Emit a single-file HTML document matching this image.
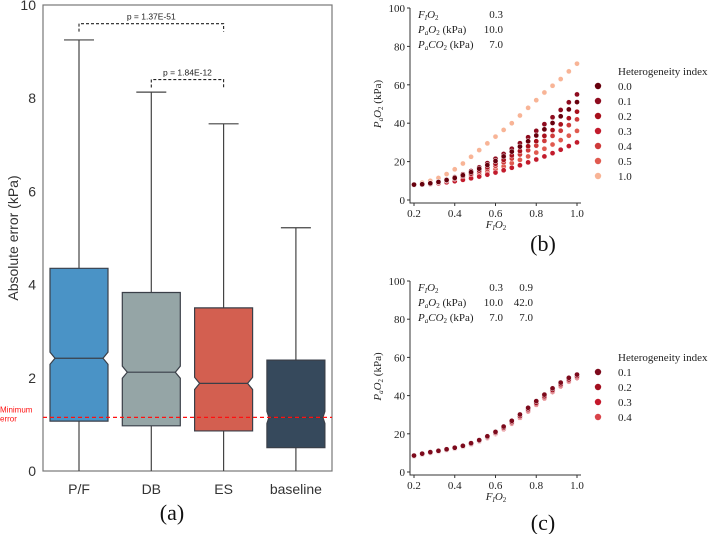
<!DOCTYPE html>
<html><head><meta charset="utf-8"><style>
body{margin:0;background:#fff;width:709px;height:534px;overflow:hidden}
svg{display:block}
.ser{font-family:"Liberation Serif",serif}
.san{font-family:"Liberation Sans","DejaVu Sans",sans-serif}
</style></head><body>
<svg id="fig" width="709" height="534" viewBox="0 0 709 534">
<g id="pa"></g>
<g id="pb"></g>
<g id="pc"></g>
</svg>
<script>
// ---- Panel (a) data ----
const boxCats=["P/F","DB","ES","baseline"];
const boxLow=[0,0,0,0];
const boxQ1=[1.07,0.97,0.86,0.5];
const boxMed=[2.42,2.12,1.88,1.15];
const boxQ3=[4.35,3.83,3.5,2.38];
const boxHigh=[9.25,8.13,7.45,5.22];
const boxColors=["#4a93c6","#95a5a6","#d35f50","#36495c"];
const aTicks=[0,2,4,6,8,10];
const minError=1.15;
// ---- Panel (b) data ----
const bX=[0.2,0.24,0.28,0.32,0.36,0.4,0.44,0.48,0.52,0.56,0.6,0.64,0.68,0.72,0.76,0.8,0.84,0.88,0.92,0.96,1.0];
const bLabels=["0.0","0.1","0.2","0.3","0.4","0.5","1.0"];
const bColors=["#67000d","#8e0b1e","#a8101c","#c21b2c","#cf3b3b","#e05a4f","#f8b496"];
const bH00=[8,8.2,8.7,9.4,10.4,11.5,12.9,14.5,16.3,18.2,20.3,22.7,25.2,27.8,30.6,33.6,36.8,40.1,43.6,47.2,51];
const bH01=[8,8.2,8.7,9.5,10.6,11.9,13.4,15.1,17.0,19.2,21.5,24.0,26.7,29.6,32.7,36.0,39.5,43.1,46.9,50.9,55];
const bH02=[8,8.2,8.6,9.3,10.1,11.1,12.4,13.7,15.3,17.0,18.9,20.9,23.2,25.5,28.0,30.6,33.4,36.4,39.4,42.6,46];
const bH03=[8,8.1,8.3,8.7,9.2,9.8,10.5,11.3,12.2,13.2,14.3,15.5,16.8,18.1,19.6,21.1,22.7,24.4,26.2,28.1,30];
const bH04=[8,8.2,8.5,9.1,9.9,10.8,11.9,13.1,14.5,16.1,17.8,19.6,21.6,23.7,25.9,28.3,30.8,33.4,36.1,39.0,42];
const bH05=[8,8.1,8.4,8.9,9.5,10.3,11.2,12.2,13.4,14.7,16.0,17.5,19.2,20.9,22.7,24.7,26.7,28.9,31.2,33.5,36];
const bH10=[8,9,10,11.5,13.5,16,19,22.5,26,29.5,33,36.5,40,44,48,52,56,59.5,63,67,71];
// ---- Panel (c) data ----
const cLabels=["0.1","0.2","0.3","0.4"];
const cColors=["#7d0a1c","#a30f1f","#c4182b","#d9444a"];
const cH01=[8.6,9.6,10.4,11.1,11.9,12.7,13.7,15.1,16.7,18.7,21.0,23.8,26.8,30.1,33.6,37.1,40.5,43.8,46.8,49.3,51];
const cH02=[8.4,9.4,10.2,10.9,11.7,12.5,13.5,14.8,16.4,18.3,20.5,23.2,26.1,29.3,32.8,36.2,39.6,42.9,45.9,48.4,50.2];
const cH03=[8.3,9.3,10.1,10.8,11.6,12.4,13.4,14.6,16.2,18.1,20.2,22.8,25.7,28.9,32.3,35.7,39.1,42.4,45.4,47.9,49.7];
const cH04=[8.2,9.2,10.0,10.7,11.5,12.3,13.2,14.4,16.0,17.8,19.9,22.4,25.3,28.4,31.8,35.2,38.6,41.9,44.9,47.4,49.2];
const sTicksY=[0,20,40,60,80,100];
const sTicksX=[0.2,0.4,0.6,0.8,1.0];

const NS="http://www.w3.org/2000/svg";
function mk(parent,tag,attrs,text){const e=document.createElementNS(NS,tag);for(const k in attrs)e.setAttribute(k,attrs[k]);if(text!==undefined)e.textContent=text;parent.appendChild(e);return e;}

// ---------- Panel A ----------
const pa=document.getElementById('pa');
const aL=43,aR=332,aT=5,aB=471;
const ay=v=>aB-(v/10)*(aB-aT);
const ax=i=>79+i*72.3;
let fr=mk(pa,'rect',{x:aL,y:aT,width:aR-aL,height:aB-aT,fill:'none',stroke:'#777','stroke-width':1.2});


aTicks.forEach(t=>{const tx=mk(pa,'text',{x:36,y:ay(t)+5,'text-anchor':'end','font-size':14,fill:'#333',class:'san'},String(t));

});
let yt=mk(pa,'text',{transform:'translate(18,238) rotate(-90)','text-anchor':'middle','font-size':14,fill:'#333',class:'san'},'Absolute error (kPa)');


const hw=29,nh=0.13;
boxCats.forEach((c,i)=>{
 const cx=ax(i);
 const nw=i===3?2:5;
 const g=mk(pa,'g',{});
 
 
 mk(g,'line',{x1:cx,x2:cx,y1:ay(boxLow[i]),y2:ay(boxQ1[i]),stroke:'#444','stroke-width':1.2});
 mk(g,'line',{x1:cx,x2:cx,y1:ay(boxQ3[i]),y2:ay(boxHigh[i]),stroke:'#444','stroke-width':1.2});
 mk(g,'line',{x1:cx-15,x2:cx+15,y1:ay(boxHigh[i]),y2:ay(boxHigh[i]),stroke:'#444','stroke-width':1.2});
 const m=boxMed[i];
 const d=`M${cx-hw},${ay(boxQ1[i])} L${cx-hw},${ay(m-nh)} L${cx-hw+nw},${ay(m)} L${cx-hw},${ay(m+nh)} L${cx-hw},${ay(boxQ3[i])} L${cx+hw},${ay(boxQ3[i])} L${cx+hw},${ay(m+nh)} L${cx+hw-nw},${ay(m)} L${cx+hw},${ay(m-nh)} L${cx+hw},${ay(boxQ1[i])} Z`;
 mk(g,'path',{d:d,fill:boxColors[i],stroke:'#3a3f48','stroke-width':1.2});
 mk(g,'line',{x1:cx-hw+nw,x2:cx+hw-nw,y1:ay(m),y2:ay(m),stroke:'#3a3f48','stroke-width':1.2});
 const lb=mk(pa,'text',{x:cx,y:494,'text-anchor':'middle','font-size':14,fill:'#333',class:'san'},c);
 
 
});
let ml=mk(pa,'line',{x1:aL,x2:aR,y1:ay(minError),y2:ay(minError),stroke:'#ff1010','stroke-width':1.2,'stroke-dasharray':'4,3'});


let mt=mk(pa,'text',{x:0,y:ay(minError)-5,'font-size':8,fill:'#ff1010',class:'san'},'Minimum');


let mt2=mk(pa,'text',{x:0,y:ay(minError)+4,'font-size':8,fill:'#ff1010',class:'san'},'error');


function bracket(i1,i2,yv,label,nm){
 const y=ay(yv);
 const p=mk(pa,'path',{d:`M${ax(i1)},${y+8} L${ax(i1)},${y} L${ax(i2)},${y} L${ax(i2)},${y+8}`,fill:'none',stroke:'#222','stroke-width':1.1,'stroke-dasharray':'3,2'});
 
 
 const t=mk(pa,'text',{x:(ax(i1)+ax(i2))/2,y:y-4,'text-anchor':'middle','font-size':8.5,fill:'#222',class:'san'},label);
 
 
}
bracket(0,2,9.6,'p = 1.37E-51','significance-bracket-pf-es');
bracket(1,2,8.4,'p = 1.84E-12','significance-bracket-db-es');
let la=mk(pa,'text',{x:172,y:520,'text-anchor':'middle','font-size':22,fill:'#111',class:'ser'},'(a)');



// ---------- scatter panels ----------
function scatterPanel(g,y0,y100,series,labels,colors,tableRows,legTop,plab,plabY){
 const xL=414,xR=577;
 const sx=v=>xL+(v-0.2)/0.8*(xR-xL);
 const sy=v=>y0-(v/100)*(y0-y100);
 const axl=mk(g,'path',{d:`M${sx(0.2)-4},${y100} L${sx(0.2)-4},${y0+3} L${sx(1.0)+4},${y0+3}`,fill:'none',stroke:'#333','stroke-width':1});
 
 
 sTicksY.forEach(t=>{mk(g,'line',{x1:sx(0.2)-7,x2:sx(0.2)-4,y1:sy(t),y2:sy(t),stroke:'#333'});
  const tx=mk(g,'text',{x:sx(0.2)-9,y:sy(t)+4,'text-anchor':'end','font-size':11,fill:'#222',class:'ser'},String(t));
  
  });
 sTicksX.forEach(t=>{mk(g,'line',{x1:sx(t),x2:sx(t),y1:y0+3,y2:y0+6,stroke:'#333'});
  const tx=mk(g,'text',{x:sx(t),y:y0+17,'text-anchor':'middle','font-size':11,fill:'#222',class:'ser'},t.toFixed(1));
  
  });
 const yt=mk(g,'text',{transform:`translate(381,${(y0+y100)/2}) rotate(-90)`,'text-anchor':'middle','font-size':11,fill:'#222',class:'ser'});
 
 
 yt.innerHTML='<tspan font-style="italic">P</tspan><tspan font-size="7" dy="2" font-style="italic">a</tspan><tspan dy="-2" font-style="italic">O</tspan><tspan font-size="7" dy="2">2</tspan><tspan dy="-2"> (kPa)</tspan>';
 const xt=mk(g,'text',{x:496,y:y0+28,'text-anchor':'middle','font-size':11,fill:'#222',class:'ser'});
 
 
 xt.innerHTML='<tspan font-style="italic">F</tspan><tspan font-size="7" dy="2" font-style="italic">I</tspan><tspan dy="-2" font-style="italic">O</tspan><tspan font-size="7" dy="2">2</tspan>';
 for(let s=series.length-1;s>=0;s--){
  const sg=mk(g,'g',{});
  
  
  series[s].forEach((v,k)=>{mk(sg,'circle',{cx:sx(bX[k]),cy:sy(v),r:2.6,fill:colors[s],stroke:'#fff','stroke-width':0.5});});
 }
 const rowsName=['<tspan font-style="italic">F</tspan><tspan font-size="7" dy="2" font-style="italic">I</tspan><tspan dy="-2" font-style="italic">O</tspan><tspan font-size="7" dy="2">2</tspan>',
  '<tspan font-style="italic">P</tspan><tspan font-size="7" dy="2" font-style="italic">a</tspan><tspan dy="-2" font-style="italic">O</tspan><tspan font-size="7" dy="2">2</tspan><tspan dy="-2"> (kPa)</tspan>',
  '<tspan font-style="italic">P</tspan><tspan font-size="7" dy="2" font-style="italic">a</tspan><tspan dy="-2" font-style="italic">CO</tspan><tspan font-size="7" dy="2">2</tspan><tspan dy="-2"> (kPa)</tspan>'];
 rowsName.forEach((r,k)=>{const t=mk(g,'text',{x:418,y:y100+10+k*15,'font-size':11,fill:'#222',class:'ser'});t.innerHTML=r;
  
  
  tableRows[k].forEach((val,j)=>{const tv=mk(g,'text',{x:503+j*30,y:y100+10+k*15,'text-anchor':'end','font-size':11,fill:'#222',class:'ser'},val);
   
   });});
 const lt=mk(g,'text',{x:618,y:legTop,'font-size':11,fill:'#222',class:'ser'},'Heterogeneity index');
 
 
 labels.forEach((l,k)=>{const y=legTop+15+k*15;
  const le=mk(g,'g',{});
  
  
  mk(le,'circle',{cx:598,cy:y-4,r:3.2,fill:colors[k]});
  mk(le,'text',{x:618,y:y,'font-size':11,fill:'#222',class:'ser'},l);});
 const pl=mk(g,'text',{x:543,y:plabY,'text-anchor':'middle','font-size':22,fill:'#111',class:'ser'},plab);
 
 
}
scatterPanel(document.getElementById('pb'),200,8,[bH00,bH01,bH02,bH03,bH04,bH05,bH10],bLabels,bColors,
 [["0.3"],["10.0"],["7.0"]],75,'(b)',251);
scatterPanel(document.getElementById('pc'),472,281,[cH01,cH02,cH03,cH04],cLabels,cColors,
 [["0.3","0.9"],["10.0","42.0"],["7.0","7.0"]],361,'(c)',530);
</script>
</body></html>
